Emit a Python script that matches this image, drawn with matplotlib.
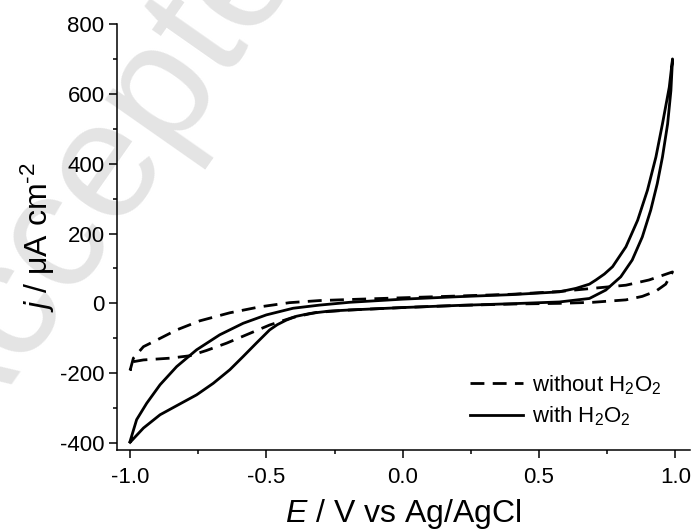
import numpy as np
import matplotlib
matplotlib.use('Agg')
import matplotlib.pyplot as plt
from matplotlib.ticker import MultipleLocator

plt.rcParams['font.family'] = ['Liberation Sans', 'DejaVu Sans']
plt.rcParams['mathtext.fontset'] = 'custom'
plt.rcParams['mathtext.rm'] = 'Liberation Sans'
plt.rcParams['mathtext.it'] = 'Liberation Sans:italic'
plt.rcParams['axes.unicode_minus'] = False

# with H2O2 (closed loop: upper branch out, lower branch back)
E_with = [-1.0, -0.976, -0.939, -0.89, -0.829, -0.756, -0.671, -0.585, -0.5, -0.402,
          -0.305, -0.195, 0.0, 0.2, 0.4, 0.575, 0.636, 0.685, 0.709, 0.74, 0.77, 0.819, 0.862,
          0.898, 0.929, 0.953, 0.978, 0.99,
          0.984, 0.972, 0.953, 0.934, 0.91, 0.879, 0.842, 0.8, 0.745, 0.685, 0.575,
          0.4, 0.2, 0.0, -0.195, -0.268, -0.3, -0.341, -0.39, -0.427, -0.46, -0.488,
          -0.537, -0.585, -0.634, -0.695, -0.756, -0.829, -0.89, -0.951, -1.0]
j_with = [-395, -333, -286, -233, -181, -133, -90, -57, -33, -14,
          -5, 3, 12, 19, 25, 33, 43, 55, 67, 84, 105, 162, 238,
          324, 419, 514, 619, 700,
          609, 514, 419, 343, 267, 190, 124, 76, 38, 14, 4,
          -1, -6, -12, -19, -22, -25, -29, -37, -48, -61, -76,
          -114, -152, -190, -229, -262, -293, -319, -357, -398]

# without H2O2
E_without = [-1.0, -0.988, -0.951, -0.902, -0.829, -0.744, -0.634, -0.524, -0.415,
             -0.305, -0.195, 0.0, 0.2, 0.4, 0.575, 0.697, 0.819, 0.904, 0.99,
             0.965, 0.929, 0.879, 0.819, 0.697, 0.575, 0.4, 0.2, 0.0, -0.195,
             -0.317, -0.402, -0.488, -0.561, -0.646, -0.72, -0.78, -0.854, -0.951,
             -0.988, -1.0]
j_without = [-192, -157, -124, -105, -76, -50, -27, -10, 2,
             8, 11, 16, 21, 26, 34, 43, 52, 67, 90,
             55, 35, 20, 10, 3, 0, -2, -6, -12, -19,
             -26, -40, -62, -86, -114, -135, -150, -157, -162,
             -167, -192]

fig = plt.figure(figsize=(6.94, 5.31), dpi=100)

# watermark, behind everything
fig.text(-0.06, 0.13, 'Accepted Manuscript', fontsize=120, color='#e4e4e4',
         rotation=55, rotation_mode='anchor', ha='left', va='baseline', zorder=-10)

ax = fig.add_axes([0.1686, 0.1525, 0.826, 0.8023])
ax.patch.set_alpha(0)

ax.plot(E_without, j_without, color='black', lw=2.0, linestyle=(0, (5, 3)),
        label='without H$_2$O$_2$')
ax.plot(E_with, j_with, color='black', lw=2.0, label='with H$_2$O$_2$')

ax.set_xlim(-1.048, 1.055)
ax.set_ylim(-420, 800)
ax.xaxis.set_minor_locator(MultipleLocator(0.25))
ax.yaxis.set_major_locator(MultipleLocator(200))
ax.yaxis.set_minor_locator(MultipleLocator(100))
ax.set_xticks([-1.0, -0.5, 0.0, 0.5, 1.0])
ax.set_xticklabels(['-1.0', '-0.5', '0.0', '0.5', '1.0'])

for s in ['top', 'right']:
    ax.spines[s].set_visible(False)
for s in ['left', 'bottom']:
    ax.spines[s].set_linewidth(1.1)

ax.tick_params(which='major', direction='out', length=5.5, width=1.1, labelsize=16)
ax.tick_params(axis='x', which='major', pad=7)
ax.tick_params(which='minor', direction='out', length=3, width=1.1)

ax.set_xlabel('$E$ / V vs Ag/AgCl', fontsize=23, labelpad=6)
ax.set_ylabel('$j$ / μA cm$^{\u2010 2}$', fontsize=23, labelpad=2)

ax.legend(loc='lower right', bbox_to_anchor=(0.985, 0.005), frameon=False, fontsize=16,
          handlelength=2.4, handletextpad=0.4, labelspacing=0.35)

plt.savefig('out.png', dpi=100)
